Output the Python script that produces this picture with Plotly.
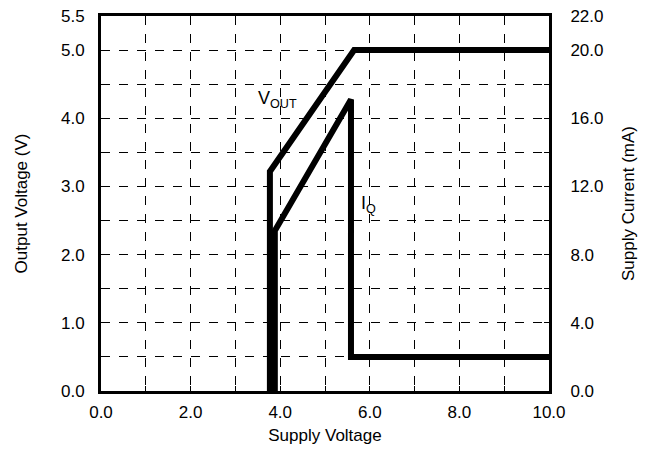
import plotly.graph_objects as go

# Data
vout_x = [3.77, 3.77, 5.65, 10.0]
vout_y = [0.0, 3.22, 5.0, 5.0]
iq_x = [3.88, 3.88, 5.58, 5.58, 10.0]
iq_y = [0.0, 9.4, 17.1, 2.0, 2.0]

x_grid = list(range(0, 11))
x_labels = [f"{v:.1f}" if v % 2 == 0 else "" for v in x_grid]
y_grid = [i * 0.5 for i in range(12)]
y_labels = [f"{v:.1f}" if (v == int(v) or v == 5.5) else "" for v in y_grid]
y2_grid = [v * 4 for v in y_grid]
y2_labels = [f"{v:.1f}" if (v % 4 == 0 or v == 22) else "" for v in y2_grid]

FONT = "Liberation Sans, Arial, Helvetica, sans-serif"

fig = go.Figure()
fig.add_trace(go.Scatter(x=vout_x, y=vout_y, mode="lines",
                         line=dict(color="black", width=6), yaxis="y",
                         showlegend=False))
fig.add_trace(go.Scatter(x=iq_x, y=iq_y, mode="lines",
                         line=dict(color="black", width=6), yaxis="y2",
                         showlegend=False))

axis_common = dict(showline=True, linecolor="black", linewidth=3,
                   showgrid=True, gridcolor="black", griddash="dash", gridwidth=1,
                   ticks="inside", ticklen=5, tickcolor="black", tickwidth=1,
                   zeroline=False, automargin=False, ticklabeloverflow="allow",
                   tickfont=dict(size=17, color="black", family=FONT))

# page body has an 8px margin, so the figure is sized/offset to compensate
fig.update_layout(
    width=639, height=441,
    margin=dict(l=93, r=98, t=8, b=58),
    plot_bgcolor="white", paper_bgcolor="white",
    font=dict(family=FONT, color="black"),
    xaxis=dict(range=[0, 10], tickvals=x_grid, ticktext=x_labels, mirror=True,
               title=dict(text="Supply Voltage", font=dict(size=17), standoff=8),
               ticklabelstandoff=4, **axis_common),
    yaxis=dict(range=[0, 5.5], tickvals=y_grid, ticktext=y_labels,
               title=dict(text="Output Voltage (V)", font=dict(size=17), standoff=30),
               ticklabelstandoff=10, **axis_common),
    yaxis2=dict(range=[0, 22], tickvals=y2_grid, ticktext=y2_labels,
                overlaying="y", side="right",
                title=dict(text="Supply Current (mA)", font=dict(size=17), standoff=20),
                ticklabelstandoff=15,
                **{**axis_common, "showgrid": False}),
)

fig.add_annotation(x=3.93, y=4.28, xref="x", yref="y",
                   text="V<sub>OUT</sub>", showarrow=False,
                   font=dict(size=18, color="black", family=FONT))
fig.add_annotation(x=5.98, y=2.73, xref="x", yref="y",
                   text="I<sub>Q</sub>", showarrow=False,
                   font=dict(size=18, color="black", family=FONT))

fig.write_html("out.html")
